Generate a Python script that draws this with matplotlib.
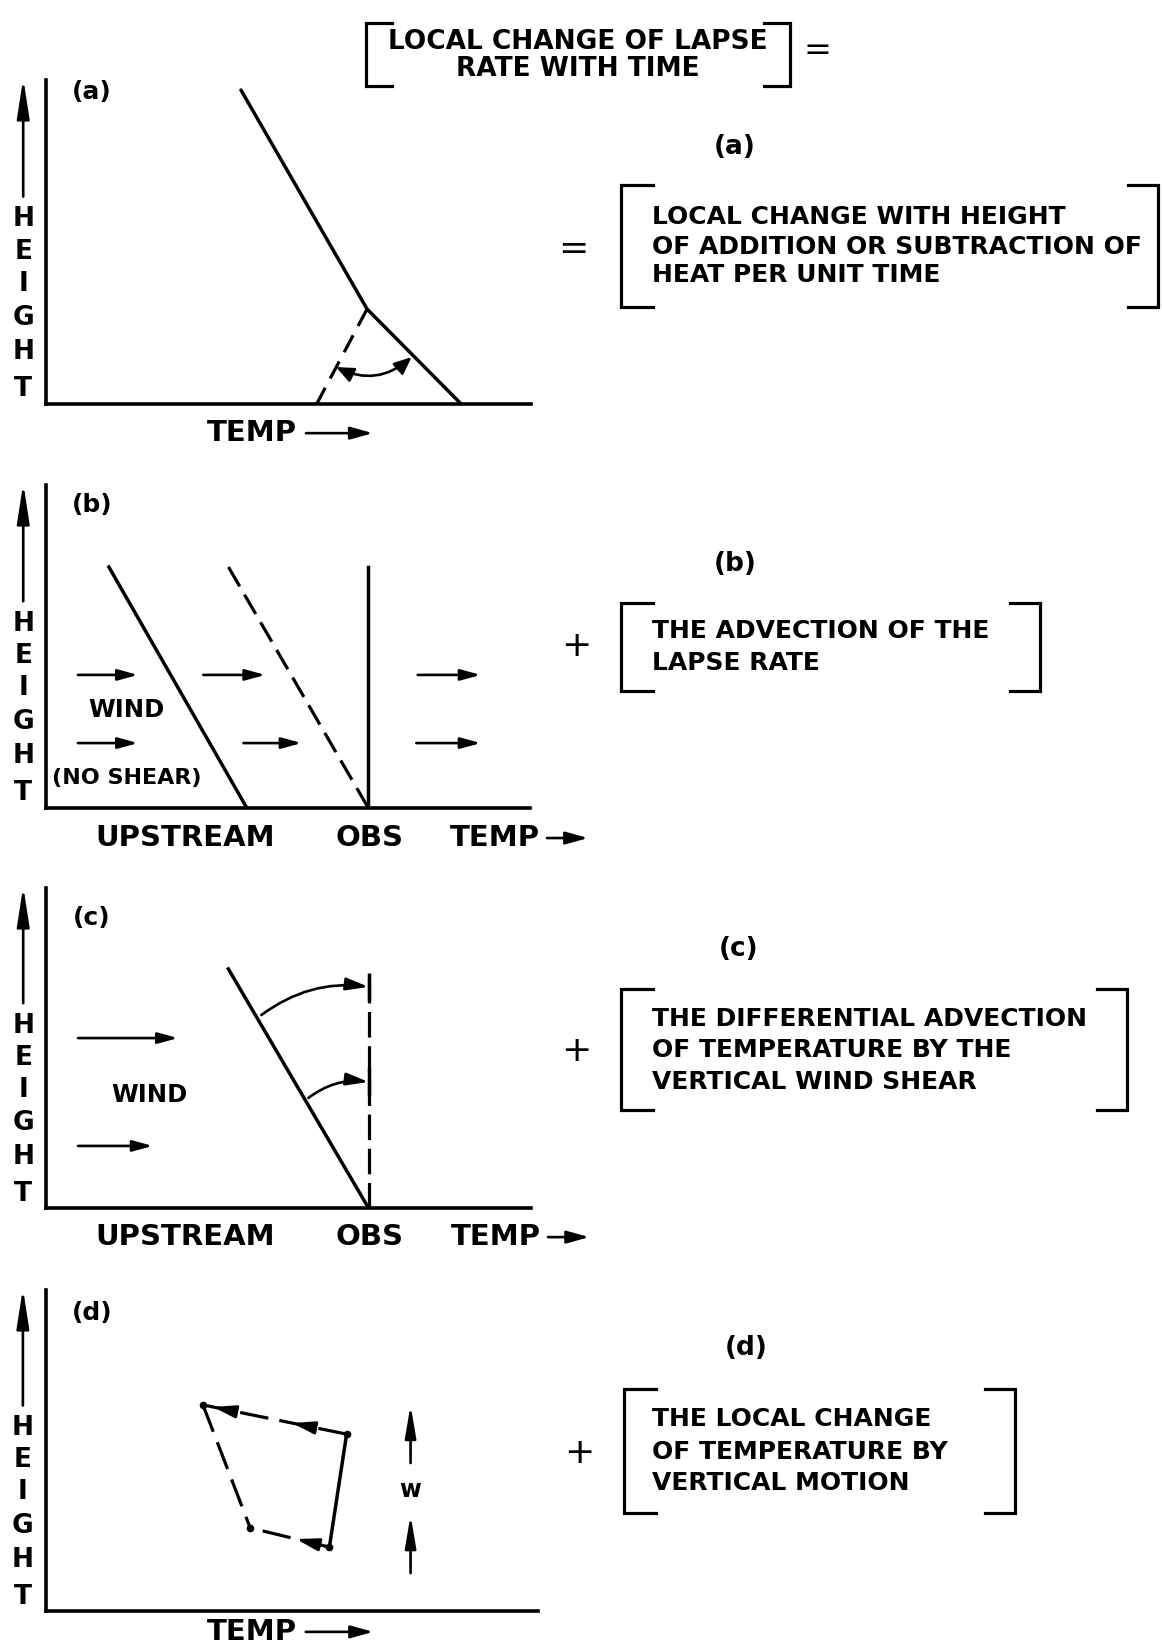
import matplotlib.pyplot as plt

plt.rcParams['font.family'] = ['DejaVu Sans']
plt.rcParams['font.weight'] = 'bold'

# ---- data (panel units: temp 0-100 across, height 0-100 up) ----
height_letters = ['H', 'E', 'I', 'G', 'H', 'T']
height_letter_z = [57, 47, 37, 26.5, 16, 4.5]

# (a) change of lapse rate by heating
a_profile_t = [40.2, 66.2, 85.6]
a_profile_z = [96.9, 29.3, 0.0]
a_new_t = [66.2, 55.8]
a_new_z = [29.3, 0.0]
a_angle_from = (59.8, 11.4)
a_angle_to = (75.4, 14.5)

# (b) advection of the lapse rate
b_upstream_t = [13.0, 41.5]
b_upstream_z = [74.6, 0.0]
b_advected_t = [37.7, 66.6]
b_advected_z = [74.6, 0.0]
b_obs_t = [66.6, 66.6]
b_obs_z = [0.0, 74.6]
b_wind_z = [41.2, 41.2, 41.2, 20.1, 20.1, 20.1]
b_wind_t0 = [6.6, 32.5, 76.8, 6.6, 40.8, 76.5]
b_wind_t1 = [19.0, 45.3, 89.8, 19.0, 52.8, 89.8]

# (c) differential advection by wind shear
c_profile_t = [37.6, 66.5]
c_profile_z = [74.7, 0.0]
c_obs_t = [66.5, 66.5]
c_obs_z = [0.0, 74.7]
c_shear_t0 = [44.4, 54.1]
c_shear_z0 = [60.3, 34.4]
c_shear_z1 = [69.1, 39.4]
c_wind_z = [53.1, 19.4]
c_wind_t0 = [6.6, 6.6]
c_wind_t1 = [27.2, 22.0]

# (d) vertical motion: corners TL, TR, BR, BL
d_corner_t = [31.9, 61.1, 57.6, 41.5]
d_corner_z = [64.2, 55.1, 19.9, 25.9]
d_w_t = 74.1
d_w_z0 = [46.1, 11.8]
d_w_z1 = [64.2, 29.9]

# ---- text ----
title_lines = ['LOCAL CHANGE OF LAPSE', 'RATE WITH TIME']
term_labels = ['(a)', '(b)', '(c)', '(d)']
term_ops = ['=', '+', '+', '+']
term_lines = [
    ['LOCAL CHANGE WITH HEIGHT', 'OF ADDITION OR SUBTRACTION OF', 'HEAT PER UNIT TIME'],
    ['THE ADVECTION OF THE', 'LAPSE RATE'],
    ['THE DIFFERENTIAL ADVECTION', 'OF TEMPERATURE BY THE', 'VERTICAL WIND SHEAR'],
    ['THE LOCAL CHANGE', 'OF TEMPERATURE BY', 'VERTICAL MOTION'],
]

W, H = 1162, 1647
fig = plt.figure(figsize=(W / 100, H / 100), dpi=100)
bg = fig.add_axes([0, 0, 1, 1])
bg.set_xlim(0, W)
bg.set_ylim(H, 0)
bg.axis('off')

LABEL_FS = 21


def arrow(ax, tail, tip, lw=1.9, hl=0.8, hw=0.22, ms=15, rad=0.0, style='-|>'):
    ax.annotate('', xy=tip, xytext=tail, annotation_clip=False,
                arrowprops=dict(arrowstyle=f'{style},head_length={hl},head_width={hw}',
                                lw=lw, color='k', mutation_scale=ms,
                                shrinkA=0, shrinkB=0,
                                connectionstyle=f'arc3,rad={rad}'))


def panel(x0, ytop, x1, ybot, label, label_xy):
    ax = fig.add_axes([x0 / W, 1 - ybot / H, (x1 - x0) / W, (ybot - ytop) / H])
    ax.set_xlim(0, 100)
    ax.set_ylim(0, 100)
    ax.patch.set_alpha(0)
    for s in ('top', 'right'):
        ax.spines[s].set_visible(False)
    for s in ('left', 'bottom'):
        ax.spines[s].set_linewidth(2.6)
    ax.set_xticks([])
    ax.set_yticks([])
    # height arrow and vertical HEIGHT
    arrow(ax, (-4.7, 64), (-4.7, 100.5), lw=1.9, hl=1.6, hw=0.25)
    for ch, z in zip(height_letters, height_letter_z):
        ax.text(-4.7, z, ch, ha='center', va='center', fontsize=19, clip_on=False)
    ax.text(label_xy[0], label_xy[1], label, ha='center', va='center', fontsize=18)
    return ax


# ---- panel (a) ----
ax = panel(46, 80, 531, 404, '(a)', (9.5, 96.3))
ax.plot(a_profile_t, a_profile_z, color='k', lw=2.5, solid_capstyle='round')
ax.plot(a_new_t, a_new_z, color='k', lw=2.3, dashes=(6, 3.3))
arrow(ax, a_angle_from, a_angle_to, lw=1.9, hl=0.7, hw=0.3, ms=15, rad=0.33, style='<|-|>')
ax.text(42.5, -9.0, 'TEMP', ha='center', va='center', fontsize=LABEL_FS, clip_on=False)
arrow(ax, (53.6, -9.0), (67.4, -9.0), lw=1.9, hl=0.9, hw=0.25)

# ---- panel (b) ----
ax = panel(46, 485, 530, 808, '(b)', (9.5, 93.8))
ax.plot(b_upstream_t, b_upstream_z, color='k', lw=2.5)
ax.plot(b_advected_t, b_advected_z, color='k', lw=2.3, dashes=(7, 3))
ax.plot(b_obs_t, b_obs_z, color='k', lw=2.5)
for z, t0, t1 in zip(b_wind_z, b_wind_t0, b_wind_t1):
    arrow(ax, (t0, z), (t1, z))
ax.text(16.6, 30.3, 'WIND', ha='center', va='center', fontsize=17.5)
ax.text(16.6, 9.3, '(NO SHEAR)', ha='center', va='center', fontsize=16)
ax.text(28.7, -9.3, 'UPSTREAM', ha='center', va='center', fontsize=LABEL_FS, clip_on=False)
ax.text(66.8, -9.3, 'OBS', ha='center', va='center', fontsize=LABEL_FS, clip_on=False)
ax.text(83.4, -9.3, 'TEMP', ha='left', va='center', fontsize=LABEL_FS, clip_on=False)
arrow(ax, (103.5, -9.3), (112.0, -9.3), lw=1.9, hl=0.9, hw=0.25)

# ---- panel (c) ----
ax = panel(46, 888, 531, 1208, '(c)', (9.5, 90.6))
ax.plot(c_profile_t, c_profile_z, color='k', lw=2.5)
ax.plot(c_obs_t, c_obs_z, color='k', lw=2.3, dashes=(8, 2.7))
for t0, z0, z1 in zip(c_shear_t0, c_shear_z0, c_shear_z1):
    arrow(ax, (t0, z0), (c_obs_t[0], z1), hl=0.9, hw=0.25, rad=-0.2)
    ax.plot([c_obs_t[0]], [z1], marker='|', ms=20, mew=2.5, color='k')
for z, t0, t1 in zip(c_wind_z, c_wind_t0, c_wind_t1):
    arrow(ax, (t0, z), (t1, z))
ax.text(21.3, 35.3, 'WIND', ha='center', va='center', fontsize=17.5)
ax.text(28.7, -9.1, 'UPSTREAM', ha='center', va='center', fontsize=LABEL_FS, clip_on=False)
ax.text(66.8, -9.1, 'OBS', ha='center', va='center', fontsize=LABEL_FS, clip_on=False)
ax.text(83.4, -9.1, 'TEMP', ha='left', va='center', fontsize=LABEL_FS, clip_on=False)
arrow(ax, (103.5, -9.1), (112.0, -9.1), lw=1.9, hl=0.9, hw=0.25)

# ---- panel (d) ----
ax = panel(46, 1290, 538, 1611, '(d)', (9.3, 92.8))
tl, tr, br, bl = list(zip(d_corner_t, d_corner_z))
ax.plot([tr[0], br[0]], [tr[1], br[1]], color='k', lw=2.5)
ax.plot([tr[0], tl[0]], [tr[1], tl[1]], color='k', lw=2.3, dashes=(9, 3.5))
ax.plot([tl[0], bl[0]], [tl[1], bl[1]], color='k', lw=2.3, dashes=(9, 3.5))
ax.plot([br[0], bl[0]], [br[1], bl[1]], color='k', lw=2.3, dashes=(9, 3.5))
ax.plot(d_corner_t, d_corner_z, 'o', color='k', ms=4.5)
for p0, p1, frac in [(tr, tl, 0.38), (tr, tl, 0.93), (br, bl, 0.42)]:
    tip = (p0[0] + (p1[0] - p0[0]) * frac, p0[1] + (p1[1] - p0[1]) * frac)
    tail = (tip[0] - (p1[0] - p0[0]) * 0.12, tip[1] - (p1[1] - p0[1]) * 0.12)
    arrow(ax, tail, tip, lw=2.1, hl=0.9, hw=0.25)
for z0, z1 in zip(d_w_z0, d_w_z1):
    arrow(ax, (d_w_t, z0), (d_w_t, z1), hl=1.3, hw=0.22)
ax.text(d_w_t, 37.7, 'w', ha='center', va='center', fontsize=17)
ax.text(41.9, -6.5, 'TEMP', ha='center', va='center', fontsize=LABEL_FS, clip_on=False)
arrow(ax, (52.8, -6.5), (66.5, -6.5), lw=1.9, hl=0.9, hw=0.25)


# ---- right hand side: equation terms ----
def bracket(x, top, bot, arm):
    bg.plot([x + arm, x, x, x + arm], [top, top, bot, bot], color='k', lw=2.3,
            solid_joinstyle='miter')


# title
bracket(366, 23, 86, 26)
bracket(790, 23, 86, -26)
bg.text(578, 42, title_lines[0], ha='center', va='center', fontsize=19)
bg.text(578, 69, title_lines[1], ha='center', va='center', fontsize=19)
bg.text(817, 50, '=', ha='center', va='center', fontsize=24, fontweight='normal')

label_pos = [(735, 147), (735, 564), (739, 949), (746, 1348)]
op_pos = [(573, 249), (576, 646), (576, 1051), (579, 1453)]
brackets = [(621, 1158, 185, 307), (621, 1040, 603, 691),
            (621, 1127, 989, 1110), (624, 1015, 1389, 1513)]
line_ys = [[217, 247, 275], [631, 663], [1019, 1050, 1082], [1419, 1452, 1483]]
for i in range(4):
    bg.text(*label_pos[i], term_labels[i], ha='center', va='center', fontsize=19)
    bg.text(*op_pos[i], term_ops[i], ha='center', va='center', fontsize=26,
            fontweight='normal')
    xl, xr, top, bot = brackets[i]
    bracket(xl, top, bot, 32)
    bracket(xr, top, bot, -30)
    for line, y in zip(term_lines[i], line_ys[i]):
        bg.text(652, y, line, ha='left', va='center', fontsize=18)

fig.savefig('out.png', dpi=100)
